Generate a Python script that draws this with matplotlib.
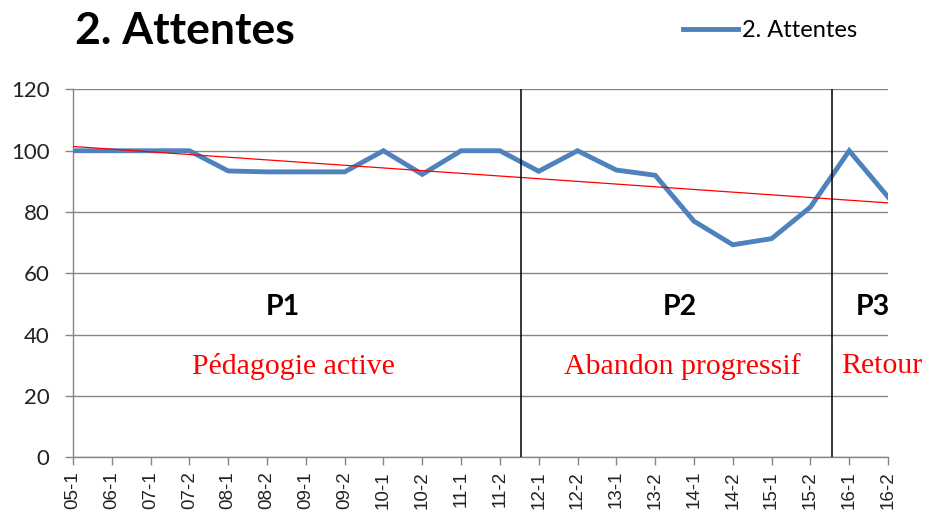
import numpy as np
import matplotlib
matplotlib.use("Agg")
import matplotlib.pyplot as plt

categories = ["05-1", "06-1", "07-1", "07-2", "08-1", "08-2", "09-1", "09-2",
              "10-1", "10-2", "11-1", "11-2", "12-1", "12-2", "13-1", "13-2",
              "14-1", "14-2", "15-1", "15-2", "16-1", "16-2"]
attentes = [100, 100, 100, 100, 93.4, 93.1, 93.1, 93.1, 100, 92.3, 100, 100,
            93.3, 100, 93.7, 92.0, 77.0, 69.3, 71.3, 81.6, 100, 84.9]
y_ticks = [0, 20, 40, 60, 80, 100, 120]
period_breaks = [11.55, 19.55]
period_labels = ["P1", "P2", "P3"]
period_names = ["Pédagogie active", "Abandon progressif", "Retour"]
label_x = [5.41, 15.63, 20.62]
name_x = [5.68, 15.7, 20.83]

BLUE = "#4F81BD"
GRID = "#868686"

fig = plt.figure(figsize=(9.26, 5.12), dpi=100)
ax = fig.add_axes([0.0788, 0.1074, 0.959 - 0.0788, 0.8252 - 0.1074])

x = np.arange(len(categories))
ax.plot(x, attentes, color=BLUE, lw=3.5, solid_joinstyle="miter", zorder=3,
        label="2. Attentes")

# linear trend line (as Excel trendline)
coef = np.polyfit(x, attentes, 1)
ax.plot([x[0], x[-1]], np.polyval(coef, [x[0], x[-1]]), color="#FF0000",
        lw=0.9, zorder=4)

for b in period_breaks:
    ax.plot([b, b], [0, 120], color="black", lw=1.1, zorder=5)

for lx, lab in zip(label_x, period_labels):
    ax.text(lx, 48.9, lab, ha="center", va="center", fontsize=20.5,
            fontweight="bold", family="Lato", color="black", clip_on=False)
for nx, nm in zip(name_x, period_names):
    ax.text(nx, 29.6, nm, ha="center", va="center", fontsize=21.5,
            family="Liberation Serif", color="#FF0000", clip_on=False)

ax.set_xlim(0, len(categories) - 1)
ax.set_ylim(0, 120)
ax.set_yticks(y_ticks)
ax.set_xticks(x)
ax.set_xticklabels(categories, rotation=90, fontsize=13.5,
                   family="Liberation Sans", color="#222222", va="top")
for t in ax.get_yticklabels():
    t.set_family("Lato")
    t.set_fontsize(16)
    t.set_color("#222222")
ax.yaxis.grid(True, color=GRID, lw=1.0)
ax.set_axisbelow(True)
for s in ["top", "right"]:
    ax.spines[s].set_visible(False)
for s in ["left", "bottom"]:
    ax.spines[s].set_color(GRID)
    ax.spines[s].set_linewidth(1.0)
ax.tick_params(axis="both", colors=GRID, length=6, width=1.0)
ax.tick_params(axis="y", labelcolor="#222222", pad=11)
ax.tick_params(axis="x", labelcolor="#222222", pad=4)

fig.text(0.081, 0.94, "2. Attentes", fontsize=32, fontweight="bold",
         family="Lato", va="center", ha="left")

leg = fig.legend(handles=ax.get_lines()[:1], loc="center left",
                 bbox_to_anchor=(0.738, 0.94), frameon=False,
                 prop={"family": "Lato", "size": 17}, handlelength=2.3,
                 handletextpad=0.17, borderpad=0, borderaxespad=0)

fig.savefig("out.png", dpi=100)
